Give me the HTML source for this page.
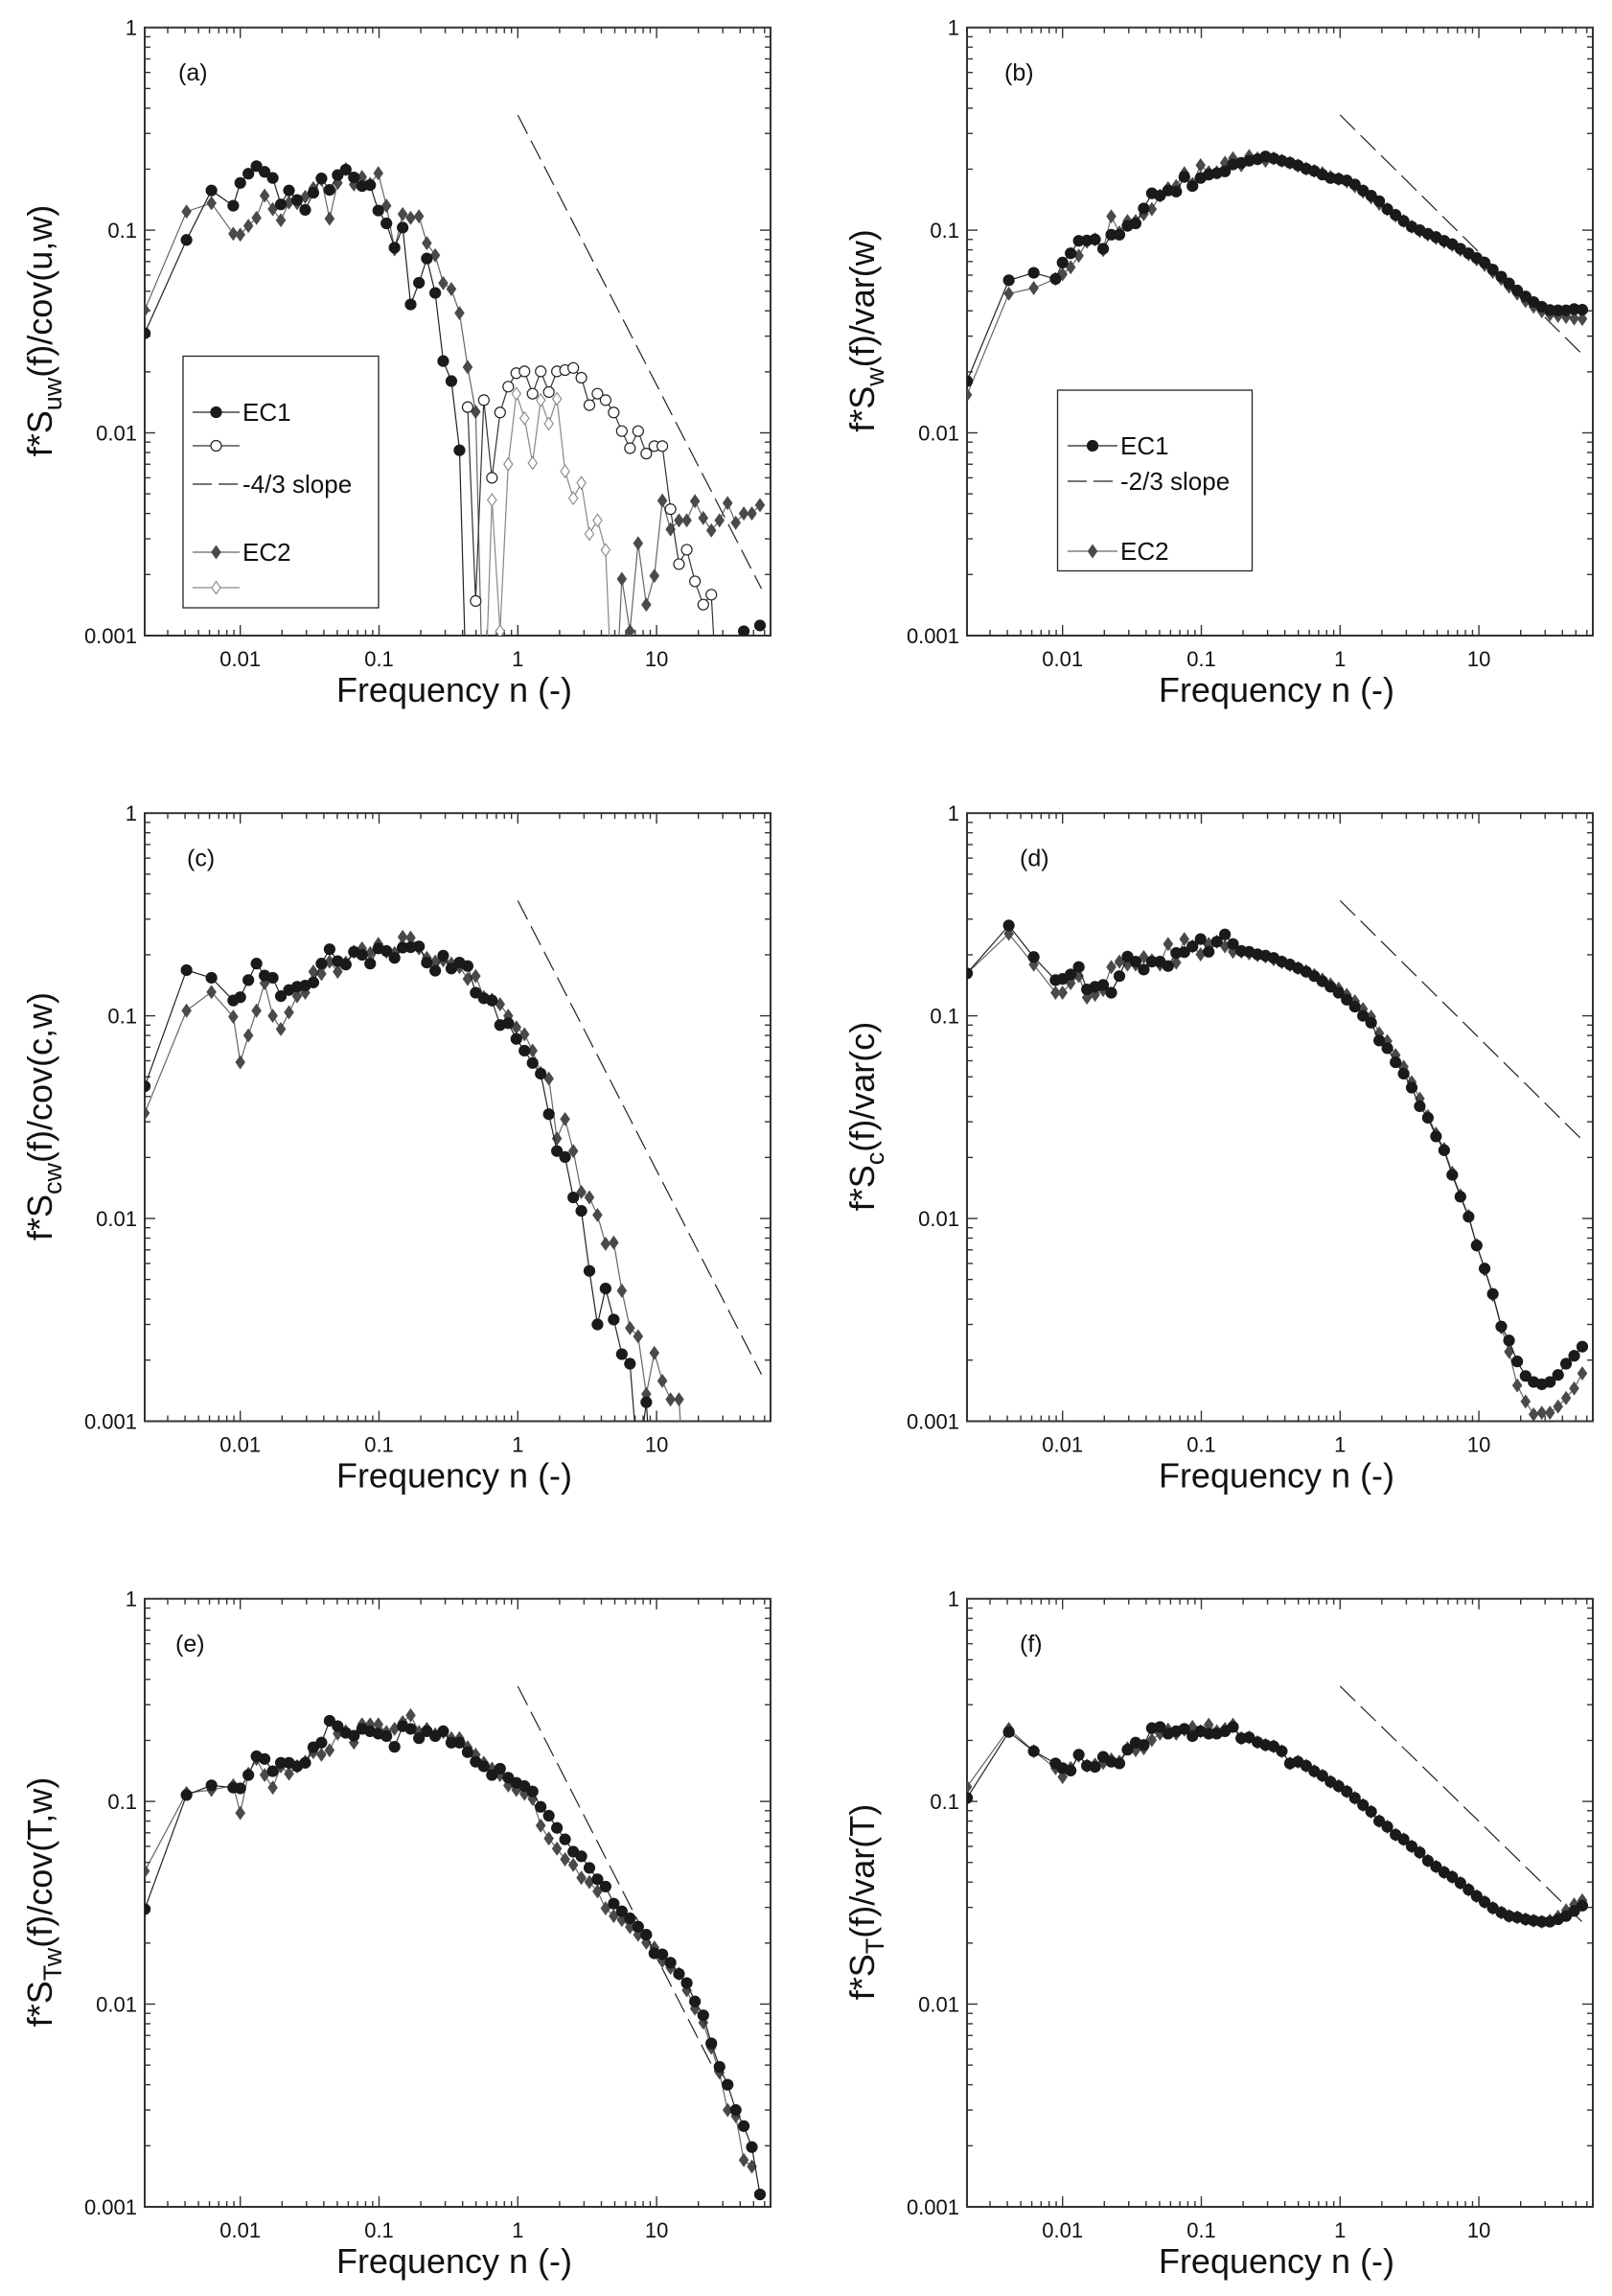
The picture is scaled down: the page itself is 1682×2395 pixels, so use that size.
<!DOCTYPE html>
<html><head><meta charset="utf-8"><title>Normalized spectra (a)–(f)</title>
<style>
html,body{margin:0;padding:0;background:#fff;}
svg{display:block;font-family:"Liberation Sans",Arial,sans-serif;}
</style></head>
<body>
<svg id="fig" width="1682" height="2395" viewBox="0 0 1682 2395" xmlns="http://www.w3.org/2000/svg"></svg>
<script>
// ---------- data ----------
const FREQ_LOW = [0.00205, 0.0041, 0.0062, 0.0089];
const FREQ_GRID = [0.0100,0.01144,0.01309,0.01498,0.01714,0.01961,0.02244,0.02568,0.02938,0.03362,
0.03846,0.04401,0.05035,0.05761,0.06592,0.07543,0.0863,0.0988,0.1130,0.1293,
0.148,0.169,0.194,0.221,0.254,0.290,0.332,0.380,0.435,0.497,
0.569,0.651,0.745,0.853,0.976,1.117,1.278,1.462,1.673,1.914,
2.19,2.51,2.87,3.28,3.75,4.29,4.91,5.62,6.43,7.36,
8.43,9.64,11.0,12.6,14.5,16.5,18.9,21.7,24.8,28.4,
32.5,37.2,42.5,48.6,55.6];
const FREQ = FREQ_LOW.concat(FREQ_GRID);
const N = null;
const Z = 0.0003; // value below axis range (line leaves the plot)

// panel (a)
const aEC1 = [0.031,0.0895,0.157,0.132,
0.171,0.19,0.207,0.194,0.181,0.134,0.157,0.141,0.126,0.153,
0.180,0.158,0.187,0.199,0.182,0.165,0.167,0.125,0.108,0.082,
0.103,0.043,0.055,0.0725,0.049,0.0226,0.018,0.0082,Z,N,
N,N,N,N,N,N,N,N,N,N,
N,N,N,N,N,N,N,N,N,N,
N,N,N,N,N,N,N,N,N,N,
N,N,0.00105,N,0.00112];
const aEC1neg = [N,N,N,N,
N,N,N,N,N,N,N,N,N,N,
N,N,N,N,N,N,N,N,N,N,
N,N,N,N,N,N,N,N,0.0134,0.00148,
0.0145,0.0060,0.0126,0.0169,0.0197,0.0201,0.0156,0.0201,0.0159,0.0201,
0.0204,0.0209,0.0187,0.0137,0.0156,0.0145,0.0126,0.0102,0.0084,0.0102,
0.0079,0.0086,0.0086,0.0042,0.00225,0.00265,0.00185,0.00142,0.00159,Z,
N,N,N,N,N];
const aEC2 = [0.0404,0.1235,0.136,0.096,
0.095,0.105,0.115,0.148,0.127,0.112,0.137,0.136,0.146,0.161,
0.178,0.114,0.171,0.20,0.168,0.183,0.169,0.191,0.132,0.0805,
0.12,0.115,0.117,0.0863,0.0752,0.0548,0.0512,0.039,0.0211,0.0127,
Z,N,N,N,N,N,N,N,N,N,
N,N,N,N,N,N,Z,0.0019,0.00105,0.00285,
0.00142,0.00197,0.00463,0.00334,0.0037,0.0037,0.0046,0.0038,0.0033,0.0037,
0.0045,0.0036,0.0040,0.0040,0.0044];
const aEC2neg = [N,N,N,N,
N,N,N,N,N,N,N,N,N,N,
N,N,N,N,N,N,N,N,N,N,
N,N,N,N,N,N,N,N,N,N,
Z,0.00466,0.00105,0.0070,0.0156,0.0118,0.0071,0.0145,0.0111,0.0147,
0.00646,0.00476,0.00566,0.00317,0.0037,0.00264,Z,N,N,N,
N,N,N,N,N,N,N,N,N,N,
N,N,N,N,N];

// panel (b)
const bEC1 = [0.018,0.0566,0.0616,0.0575,
0.0692,0.0769,0.0886,0.089,0.09,0.081,0.095,0.095,0.105,0.108,
0.128,0.152,0.148,0.157,0.155,0.183,0.165,0.181,0.188,0.191,
0.195,0.211,0.215,0.220,0.224,0.231,0.226,0.220,0.215,0.209,
0.201,0.196,0.188,0.181,0.179,0.176,0.168,0.157,0.148,0.139,
0.127,0.119,0.111,0.104,0.100,0.096,0.0925,0.0886,0.0853,0.081,
0.0769,0.0729,0.0692,0.0639,0.059,0.0546,0.0504,0.0471,0.0442,0.0419,
0.0404,0.0402,0.0402,0.0408,0.0405];
const bEC2 = [0.0154,0.0486,0.0518,0.0575,
0.0606,0.0656,0.0748,0.0877,0.09,0.0798,0.117,0.0975,0.111,0.111,
0.120,0.127,0.148,0.161,0.165,0.191,0.169,0.209,0.193,0.193,
0.215,0.226,0.209,0.232,0.226,0.220,0.226,0.220,0.215,0.208,
0.201,0.196,0.191,0.183,0.179,0.174,0.165,0.155,0.145,0.135,
0.127,0.118,0.111,0.104,0.099,0.095,0.0915,0.0877,0.0845,0.080,
0.0760,0.0718,0.0673,0.0622,0.0575,0.0526,0.0486,0.0447,0.0419,0.0398,
0.0384,0.0378,0.0373,0.0367,0.0365];

// panel (c)
const cEC1 = [0.0449,0.168,0.154,0.119,
0.1235,0.15,0.181,0.158,0.154,0.125,0.134,0.139,0.141,0.146,
0.181,0.213,0.186,0.179,0.207,0.20,0.181,0.215,0.209,0.193,
0.217,0.218,0.22,0.183,0.167,0.198,0.171,0.183,0.176,0.130,
0.122,0.119,0.090,0.092,0.0769,0.0673,0.0585,0.0518,0.0327,0.0215,
0.0201,0.0127,0.0109,0.00551,0.0030,0.00451,0.00317,0.00214,0.00192,0.0006,
0.00124,Z,N,N,N,N,N,N,N,N,
N,N,N,N,N];
const cEC2 = [0.0331,0.106,0.131,0.099,
0.059,0.08,0.106,0.145,0.10,0.086,0.104,0.125,0.13,0.165,
0.161,0.185,0.165,0.183,0.207,0.215,0.204,0.226,0.207,0.204,
0.245,0.243,0.215,0.193,0.185,0.188,0.181,0.174,0.152,0.157,
0.1235,0.12,0.114,0.1,0.0877,0.081,0.0673,0.0522,0.049,0.0248,
0.0309,0.0215,0.0135,0.0127,0.0104,0.0075,0.0076,0.0044,0.00288,0.00262,
0.00136,0.00217,0.00158,0.00128,0.00128,Z,N,N,N,N,
N,N,N,N,N];

// panel (d)
const dEC1 = [0.162,0.279,0.195,0.15,
0.152,0.16,0.174,0.135,0.139,0.142,0.13,0.157,0.196,0.185,
0.169,0.185,0.185,0.176,0.204,0.206,0.22,0.239,0.207,0.232,
0.252,0.226,0.209,0.207,0.201,0.198,0.193,0.185,0.179,0.172,
0.165,0.157,0.148,0.139,0.13,0.12,0.111,0.1,0.0925,0.0755,
0.0692,0.059,0.0518,0.0442,0.0358,0.0314,0.0254,0.0217,0.0164,0.0128,
0.0102,0.00736,0.00566,0.00424,0.00293,0.0025,0.00197,0.00167,0.00156,0.00152,
0.00156,0.00169,0.00192,0.0021,0.00233];
const dEC2 = [0.162,0.254,0.179,0.13,
0.13,0.145,0.157,0.123,0.127,0.134,0.174,0.185,0.179,0.179,
0.195,0.188,0.179,0.226,0.183,0.239,0.22,0.201,0.226,0.232,
0.22,0.207,0.207,0.203,0.199,0.196,0.19,0.184,0.178,0.172,
0.166,0.159,0.151,0.143,0.136,0.127,0.118,0.108,0.099,0.082,
0.075,0.064,0.056,0.047,0.039,0.032,0.0262,0.022,0.0168,0.013,
0.0103,0.0074,0.0056,0.0042,0.0029,0.0022,0.0015,0.00125,0.00108,0.0011,
0.0011,0.00118,0.0013,0.00145,0.00172];

// panel (e)
const eEC1 = [0.0294,0.1076,0.12,0.117,
0.116,0.135,0.167,0.162,0.141,0.155,0.155,0.149,0.155,0.185,
0.195,0.25,0.235,0.218,0.211,0.228,0.222,0.216,0.21,0.186,
0.235,0.228,0.205,0.222,0.21,0.222,0.195,0.195,0.175,0.157,
0.149,0.135,0.145,0.131,0.1235,0.119,0.112,0.094,0.085,0.074,
0.065,0.0565,0.0536,0.047,0.0413,0.038,0.0313,0.0287,0.0265,0.0241,
0.022,0.0178,0.0176,0.016,0.0141,0.0127,0.0103,0.0088,0.0064,0.0049,
0.0040,0.003,0.0025,0.00197,0.00115];
const eEC2 = [0.0453,0.11,0.114,0.12,
0.0877,0.137,0.162,0.135,0.117,0.149,0.137,0.149,0.157,0.175,
0.17,0.179,0.216,0.222,0.195,0.24,0.24,0.24,0.22,0.228,
0.246,0.266,0.22,0.228,0.214,0.22,0.205,0.205,0.185,0.17,
0.155,0.145,0.135,0.12,0.114,0.109,0.103,0.076,0.0656,0.0585,
0.0518,0.0486,0.042,0.04,0.036,0.0297,0.0272,0.026,0.024,0.022,
0.0201,0.019,0.0163,0.0151,0.0141,0.0117,0.0095,0.0081,0.0061,0.0046,
0.003,0.0028,0.0017,0.00158,N];

// panel (f)
const fEC1 = [0.104,0.22,0.177,0.154,
0.146,0.142,0.17,0.15,0.148,0.166,0.157,0.154,0.18,0.195,
0.19,0.23,0.233,0.216,0.222,0.228,0.21,0.222,0.216,0.216,
0.222,0.233,0.205,0.207,0.196,0.19,0.187,0.177,0.154,0.157,
0.15,0.141,0.134,0.125,0.119,0.112,0.104,0.096,0.089,0.08,
0.075,0.0685,0.065,0.06,0.056,0.051,0.0477,0.0447,0.0424,0.0396,
0.0367,0.0341,0.0319,0.0298,0.0283,0.0272,0.0268,0.0262,0.0258,0.0255,
0.0255,0.0262,0.0272,0.0288,0.0306];
const fEC2 = [0.118,0.228,0.177,0.146,
0.132,0.146,0.168,0.15,0.152,0.155,0.161,0.157,0.183,0.179,
0.183,0.201,0.216,0.226,0.216,0.226,0.233,0.222,0.239,0.222,
0.228,0.239,0.205,0.207,0.196,0.19,0.187,0.177,0.154,0.157,
0.15,0.141,0.134,0.125,0.119,0.112,0.104,0.096,0.089,0.08,
0.075,0.0685,0.065,0.06,0.056,0.051,0.0477,0.0447,0.0424,0.0396,
0.0367,0.0341,0.0319,0.0298,0.0283,0.0272,0.0268,0.0262,0.0258,0.0255,
0.0258,0.027,0.029,0.031,0.0325];

// reference slope lines: [n_start, n_end], [value_start, value_end]
const slopeN = {a:[1,57], b:[1,57], c:[1,57], d:[1,57], e:[1,27], f:[1,57]};
const slopeV = {a:[0.37,0.0017], b:[0.37,0.024], c:[0.37,0.0017], d:[0.37,0.024], e:[0.37,0.0045], f:[0.37,0.025]};

const X_TICKS = [0.01, 0.1, 1, 10];
const X_TICK_LABELS = ["0.01", "0.1", "1", "10"];
const Y_TICKS = [1, 0.1, 0.01, 0.001];
const Y_TICK_LABELS = ["1", "0.1", "0.01", "0.001"];

// ---------- layout ----------
const SVGNS = "http://www.w3.org/2000/svg";
const svg = document.getElementById('fig');
const PL = 151, PR = 804, PT = 28.7, PB = 663;
const X0 = 250.7, DEC_X = 144.8, DEC_Y = 211.4;
function mk(tag, parent){ const e = document.createElementNS(SVGNS, tag); parent.appendChild(e); return e; }
function lg(v){ return Math.log(v)/Math.LN10; }

const panels = [
 {id:'a', ox:0,   oy:0,    letter:'(a)', lx:186, ec1:aEC1, ec1n:aEC1neg, ec2:aEC2, ec2n:aEC2neg, ylab:['f*S','uw','(f)/cov(u,w)']},
 {id:'b', ox:858, oy:0,    letter:'(b)', lx:190, ec1:bEC1, ec2:bEC2, ylab:['f*S','w','(f)/var(w)']},
 {id:'c', ox:0,   oy:819.5,letter:'(c)', lx:195, ec1:cEC1, ec2:cEC2, ylab:['f*S','cw','(f)/cov(c,w)']},
 {id:'d', ox:858, oy:819.5,letter:'(d)', lx:206, ec1:dEC1, ec2:dEC2, ylab:['f*S','c','(f)/var(c)']},
 {id:'e', ox:0,   oy:1639, letter:'(e)', lx:183, ec1:eEC1, ec2:eEC2, ylab:['f*S','Tw','(f)/cov(T,w)']},
 {id:'f', ox:858, oy:1639, letter:'(f)', lx:206, ec1:fEC1, ec2:fEC2, ylab:['f*S','T','(f)/var(T)']}
];

function circleMarker(g, x, y, fill, stroke){
  const c = mk('circle', g);
  
  
  c.setAttribute('cx', x); c.setAttribute('cy', y); c.setAttribute('r', 5.5);
  c.setAttribute('fill', fill); c.setAttribute('stroke', stroke); c.setAttribute('stroke-width', 1.2);
}
function diamondMarker(g, x, y, fill, stroke){
  const p = mk('path', g);
  
  
  p.setAttribute('d', `M${x},${y-6.5} L${x+4.6},${y} L${x},${y+6.5} L${x-4.6},${y} Z`);
  p.setAttribute('fill', fill); p.setAttribute('stroke', stroke); p.setAttribute('stroke-width', 1.1);
}

function drawSeries(g, xs, ys, vals, lineColor, markerFn, mFill, mStroke, name){
  const sg = mk('g', g);
  
  
  let seg = [];
  const segs = [];
  for (let i = 0; i < vals.length; i++){
    if (vals[i] === null){ if (seg.length) segs.push(seg); seg = []; continue; }
    seg.push([xs(FREQ[i]), ys(vals[i])]);
  }
  if (seg.length) segs.push(seg);
  segs.forEach(s => {
    if (s.length < 2) return;
    const pl = mk('polyline', sg);
    
    
    pl.setAttribute('points', s.map(p => p[0].toFixed(1)+','+p[1].toFixed(1)).join(' '));
    pl.setAttribute('fill', 'none'); pl.setAttribute('stroke', lineColor); pl.setAttribute('stroke-width', 1.2);
  });
  for (let i = 0; i < vals.length; i++){
    if (vals[i] === null || vals[i] < 0.00095) continue;
    markerFn(sg, xs(FREQ[i]), ys(vals[i]), mFill, mStroke);
  }
}

panels.forEach(P => {
  const g = mk('g', svg);
  
  
  g.setAttribute('transform', `translate(${P.ox},${P.oy})`);
  const xs = n => X0 + (lg(n) + 2) * DEC_X;
  const ys = v => PT - lg(v) * DEC_Y;

  const defs = mk('defs', g);
  const cp = mk('clipPath', defs);
  cp.setAttribute('id', 'clip-' + P.id);
  const cr = mk('rect', cp);
  cr.setAttribute('x', PL); cr.setAttribute('y', PT); cr.setAttribute('width', PR-PL); cr.setAttribute('height', PB-PT);

  const tg = mk('g', g);
  
  
  tg.setAttribute('stroke', '#333'); tg.setAttribute('stroke-width', 1.4);
  for (let d = -3; d <= 1; d++){
    for (let m = 1; m <= 9; m++){
      const n = m * Math.pow(10, d);
      const x = xs(n);
      if (x < PL + 0.5 || x > PR - 0.5) continue;
      const L = (m === 1) ? 11 : 6;
      const t1 = mk('line', tg); t1.setAttribute('x1', x); t1.setAttribute('x2', x); t1.setAttribute('y1', PB); t1.setAttribute('y2', PB - L);
      const t2 = mk('line', tg); t2.setAttribute('x1', x); t2.setAttribute('x2', x); t2.setAttribute('y1', PT); t2.setAttribute('y2', PT + L);
    }
  }
  for (let d = -3; d <= -1; d++){
    for (let m = 1; m <= 9; m++){
      const v = m * Math.pow(10, d);
      const y = ys(v);
      const L = (m === 1) ? 11 : 6;
      const t1 = mk('line', tg); t1.setAttribute('y1', y); t1.setAttribute('y2', y); t1.setAttribute('x1', PL); t1.setAttribute('x2', PL + L);
      const t2 = mk('line', tg); t2.setAttribute('y1', y); t2.setAttribute('y2', y); t2.setAttribute('x1', PR); t2.setAttribute('x2', PR - L);
    }
  }

  const fr = mk('rect', g);
  
  
  fr.setAttribute('x', PL); fr.setAttribute('y', PT); fr.setAttribute('width', PR-PL); fr.setAttribute('height', PB-PT);
  fr.setAttribute('fill', 'none'); fr.setAttribute('stroke', '#333'); fr.setAttribute('stroke-width', 2);

  X_TICKS.forEach((n, i) => {
    const t = mk('text', g);
    
    
    t.setAttribute('x', xs(n)); t.setAttribute('y', PB + 32);
    t.setAttribute('text-anchor', 'middle'); t.setAttribute('font-size', 22); t.setAttribute('fill', '#111');
    t.textContent = X_TICK_LABELS[i];
  });
  Y_TICKS.forEach((v, i) => {
    const t = mk('text', g);
    
    
    t.setAttribute('x', PL - 8); t.setAttribute('y', ys(v) + 8);
    t.setAttribute('text-anchor', 'end'); t.setAttribute('font-size', 22); t.setAttribute('fill', '#111');
    t.textContent = Y_TICK_LABELS[i];
  });

  const xt = mk('text', g);
  
  
  xt.setAttribute('x', 474); xt.setAttribute('y', 732);
  xt.setAttribute('text-anchor', 'middle'); xt.setAttribute('font-size', 36); xt.setAttribute('fill', '#111');
  xt.textContent = 'Frequency n (-)';

  const yt = mk('text', g);
  
  
  yt.setAttribute('transform', 'translate(54,345) rotate(-90)');
  yt.setAttribute('text-anchor', 'middle'); yt.setAttribute('font-size', 36); yt.setAttribute('fill', '#111');
  const s1 = mk('tspan', yt); s1.textContent = P.ylab[0];
  const s2 = mk('tspan', yt); s2.setAttribute('font-size', 27); s2.setAttribute('dy', 10); s2.textContent = P.ylab[1];
  const s3 = mk('tspan', yt); s3.setAttribute('dy', -10); s3.textContent = P.ylab[2];

  const pl = mk('text', g);
  
  
  pl.setAttribute('x', P.lx); pl.setAttribute('y', 84);
  pl.setAttribute('font-size', 25); pl.setAttribute('fill', '#111');
  pl.textContent = P.letter;

  const dg = mk('g', g);
  
  
  dg.setAttribute('clip-path', `url(#clip-${P.id})`);

  const sl = mk('line', dg);
  
  
  sl.setAttribute('x1', xs(slopeN[P.id][0])); sl.setAttribute('y1', ys(slopeV[P.id][0]));
  sl.setAttribute('x2', xs(slopeN[P.id][1])); sl.setAttribute('y2', ys(slopeV[P.id][1]));
  sl.setAttribute('stroke', '#222'); sl.setAttribute('stroke-width', 1.2); sl.setAttribute('stroke-dasharray', '22 8');

  drawSeries(dg, xs, ys, P.ec2, '#666', diamondMarker, '#4a4a4a', '#4a4a4a', 'series-ec2');
  if (P.ec2n) drawSeries(dg, xs, ys, P.ec2n, '#888', diamondMarker, '#fff', '#888', 'series-ec2-negative');
  drawSeries(dg, xs, ys, P.ec1, '#222', circleMarker, '#1a1a1a', '#1a1a1a', 'series-ec1');
  if (P.ec1n) drawSeries(dg, xs, ys, P.ec1n, '#333', circleMarker, '#fff', '#222', 'series-ec1-negative');
});

function legend(ox, oy, box, entries, name){
  const g = mk('g', svg);
  
  
  g.setAttribute('transform', `translate(${ox},${oy})`);
  const r = mk('rect', g);
  
  
  r.setAttribute('x', box[0]); r.setAttribute('y', box[1]); r.setAttribute('width', box[2]); r.setAttribute('height', box[3]);
  r.setAttribute('fill', '#fff'); r.setAttribute('stroke', '#222'); r.setAttribute('stroke-width', 1.3);
  entries.forEach(e => {
    const eg = mk('g', g);
    
    
    const ln = mk('line', eg);
    ln.setAttribute('x1', e.x1); ln.setAttribute('x2', e.x2); ln.setAttribute('y1', e.y); ln.setAttribute('y2', e.y);
    ln.setAttribute('stroke', e.color); ln.setAttribute('stroke-width', 1.2);
    if (e.dash) ln.setAttribute('stroke-dasharray', '20 7');
    if (e.marker) e.marker(eg, (e.x1 + e.x2) / 2, e.y, e.fill, e.stroke);
    const t = mk('text', eg);
    t.setAttribute('x', e.x2 + 3); t.setAttribute('y', e.y + 9);
    t.setAttribute('font-size', 26); t.setAttribute('fill', '#111');
    t.textContent = e.label;
  });
}
legend(0, 0, [191, 371.5, 204, 262.5], [
  {x1:201, x2:250, y:430, color:'#222', marker:circleMarker, fill:'#1a1a1a', stroke:'#1a1a1a', label:'EC1'},
  {x1:201, x2:250, y:465, color:'#333', marker:circleMarker, fill:'#fff', stroke:'#222', label:''},
  {x1:201, x2:250, y:505, color:'#222', dash:true, label:'-4/3 slope'},
  {x1:201, x2:250, y:576, color:'#666', marker:diamondMarker, fill:'#4a4a4a', stroke:'#4a4a4a', label:'EC2'},
  {x1:201, x2:250, y:613, color:'#888', marker:diamondMarker, fill:'#fff', stroke:'#888', label:''}
], 'legend-a');
legend(858, 0, [245.5, 407, 203, 188.5], [
  {x1:256, x2:308, y:465, color:'#222', marker:circleMarker, fill:'#1a1a1a', stroke:'#1a1a1a', label:'EC1'},
  {x1:256, x2:308, y:502, color:'#222', dash:true, label:'-2/3 slope'},
  {x1:256, x2:308, y:575, color:'#666', marker:diamondMarker, fill:'#4a4a4a', stroke:'#4a4a4a', label:'EC2'}
], 'legend-b');
</script>
</body></html>
